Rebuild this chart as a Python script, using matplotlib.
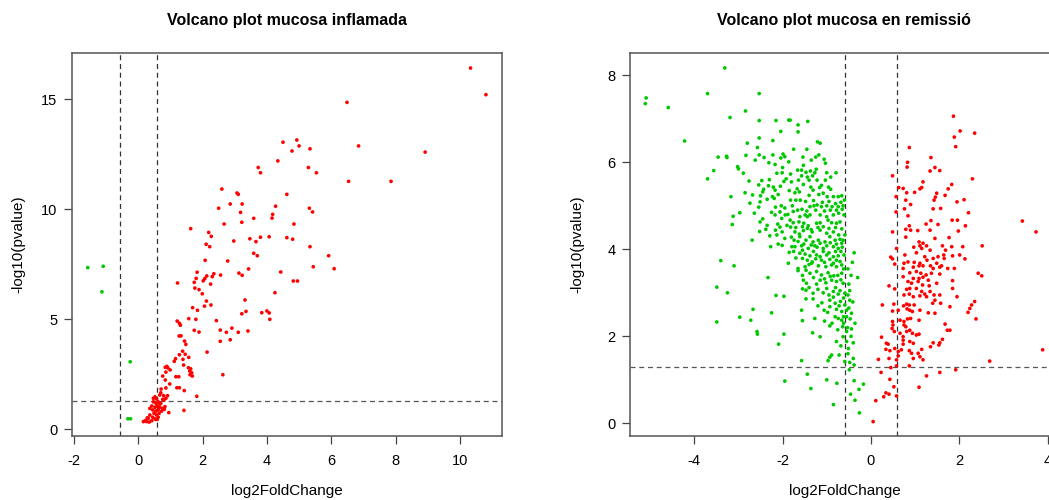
import matplotlib
matplotlib.use("Agg")
import matplotlib.pyplot as plt
import numpy as np

plt.rcParams['font.family'] = ['Liberation Sans', 'DejaVu Sans']

# ---------------- data: mucosa inflamada ----------------
inflamada_up = [
    (4.50,13.05),(4.93,13.15),(5.00,12.88),(4.78,12.65),(5.34,12.75),(4.34,12.2),(3.73,11.9),(3.80,11.66),
    (5.29,11.9),(2.60,10.92),(3.07,10.74),(3.11,10.68),(4.62,10.68),(2.86,10.24),(3.23,10.24),(2.50,10.05),
    (4.27,10.14),(5.32,10.05),(3.18,9.86),(4.18,9.77),(4.16,9.60),(3.59,9.59),(3.22,9.41),(2.67,9.33),
    (4.84,9.33),(1.63,9.12),(2.19,8.95),(2.27,8.77),(2.97,8.56),(3.47,8.66),(3.66,8.53),(3.80,8.73),
    (4.07,8.75),(4.62,8.71),(4.80,8.64),(2.11,8.41),(2.22,8.30),(5.34,8.30),
    (10.33,16.42),(10.81,15.21),(6.49,14.86),(6.85,12.88),(8.92,12.60),(5.54,11.66),(6.54,11.27),(7.86,11.27),(5.42,9.88),
    (4.43,7.15),(4.82,6.74),(4.95,6.74),(5.44,7.39),(5.92,7.89),(6.09,7.30),
    (2.08,7.68),(2.78,7.65),(3.59,8.0),(3.70,7.89),(1.83,7.14),(2.35,7.07),(2.13,6.97),(2.30,6.94),(2.07,6.85),
    (2.02,6.75),(1.80,6.86),(2.56,7.01),(3.13,7.10),(3.23,7.0),(3.43,7.29),(1.22,6.65),(1.74,6.68),(2.25,6.60),
    (1.76,6.42),(1.89,6.35),(1.99,6.16),(2.12,5.83),(2.06,5.60),(2.26,5.65),(1.69,5.53),(1.84,5.41),(3.32,5.88),
    (4.25,6.21),(3.84,5.30),(4.00,5.38),(4.07,5.29),(4.09,5.0),(3.22,5.25),(3.35,5.36),(1.57,5.03),(1.79,5.0),
    (1.21,4.92),(1.28,4.82),(1.31,4.73),(2.43,4.94),(1.74,4.50),(1.89,4.42),(2.55,4.51),(2.74,4.41),(2.91,4.60),
    (3.11,4.41),(3.41,4.47),(2.55,4.0),(2.86,4.07),(1.27,4.24),(1.33,4.25),(1.44,4.01),(1.48,3.86),(2.14,3.51),
    (1.38,3.55),(1.28,3.39),(1.46,3.41),(1.57,3.27),(1.16,3.21),(1.12,3.09),(1.39,3.18),(0.89,2.86),(0.92,2.79),
    (0.99,2.70),(0.84,2.82),(1.41,2.92),(1.56,2.80),(1.63,2.75),(1.60,2.65),(1.66,2.57),(1.61,2.48),(1.68,2.42),
    (0.86,2.60),(0.76,2.42),(1.17,2.39),(1.26,2.39),(0.84,2.24),(2.63,2.48),(0.98,2.06),(1.20,1.89),(1.28,1.89),
    (1.43,1.76),(0.71,1.83),(0.86,1.88),(0.70,1.66),(0.79,1.53),(0.91,1.53),(1.82,1.50),(1.42,0.86),(0.95,0.76),
    (0.52,1.48),(0.57,1.38),(0.47,1.25),(0.55,1.18),(0.62,1.25),(0.70,1.18),(0.42,1.06),(0.52,1.0),(0.59,1.06),
    (0.67,1.0),(0.76,0.95),(0.45,0.88),(0.55,0.83),(0.62,0.88),(0.73,0.83),(0.49,0.73),(0.36,0.65),(0.57,0.65),
    (0.45,0.55),(0.31,0.50),(0.52,0.47),(0.42,0.39),(0.26,0.35),(0.34,0.33),(0.55,0.45),(0.62,0.55),(0.80,1.33),
    (0.86,1.41),(0.67,1.56),(0.47,1.41),(0.36,0.95),(0.65,0.73),(0.59,0.45),(0.16,0.35),(0.22,0.40),(0.28,0.52),
    (0.67,1.15),(0.83,1.03),(0.76,1.36),(0.81,0.91),
]
inflamada_down = [(-1.57,7.35),(-1.09,7.41),(-1.13,6.25),(-0.25,3.07),(-0.32,0.48),(-0.24,0.48)]

# ---------------- data: mucosa en remissió ----------------
remissio_down = [
    (-5.09,7.48),(-5.11,7.35),(-4.59,7.26),(-4.22,6.49),(-3.31,8.17),(-3.70,7.58),(-2.53,7.58),(-3.46,6.12),
    (-3.56,5.81),(-3.70,5.62),
    (-2.84,7.18),(-3.19,7.03),(-2.53,6.96),(-2.15,6.96),(-1.86,6.97),(-1.83,6.97),(-1.43,6.94),(-1.65,6.86),
    (-2.04,6.71),(-1.65,6.70),(-2.22,6.50),(-2.53,6.56),(-2.80,6.44),(-1.21,6.47),(-1.15,6.44),(-2.57,6.34),
    (-3.27,6.14),(-3.26,6.11),(-2.83,6.16),(-2.53,6.17),(-2.42,6.11),(-2.22,6.17),(-1.99,6.19),(-1.95,6.13),
    (-2.04,6.10),(-1.86,6.01),(-2.31,5.99),(-2.17,5.95),(-2.00,5.88),(-2.13,5.75),(-2.01,5.76),(-1.82,5.73),
    (-1.54,6.12),(-1.25,6.12),(-1.18,6.17),(-1.06,6.07),(-1.03,5.98),(-3.02,5.90),(-3.00,5.85),(-2.89,5.75),
    (-2.76,5.57),(-2.47,5.58),(-1.66,5.82),(-1.57,5.82),(-1.53,5.93),(-1.47,5.77),(-1.37,5.80),(-1.24,5.84),
    (-1.27,5.76),(-1.44,5.66),(-1.40,5.59),(-1.32,5.69),(-1.22,5.59),(-1.57,5.69),(-1.64,5.59),(-1.92,5.62),
    (-1.97,5.56),(-1.00,5.76),(-0.91,5.66),(-0.79,5.76),(-1.12,5.47),(-1.16,5.42),(-1.03,5.59),(-0.96,5.43),
    (-0.91,5.38),(-2.54,5.48),(-2.43,5.38),(-2.32,5.46),(-2.45,5.32),(-2.21,5.43),(-2.17,5.36),(-2.10,5.26),
    (-2.23,5.21),(-2.19,5.17),(-1.53,5.49),(-1.67,5.39),(-1.62,5.32),(-1.36,5.43),(-1.31,5.36),(-1.40,5.24),
    (-1.18,5.26),(-1.08,5.29),(-0.99,5.21),(-0.85,5.21),(-0.74,5.21),(-0.66,5.23),(-0.60,5.13),(-3.17,5.21),
    (-2.50,5.23),(-2.51,5.09),(-2.54,4.97),(-2.74,5.06),(-2.97,4.84),(-3.12,4.76),(-2.64,4.83),(-1.82,5.13),
    (-1.78,5.00),(-1.70,5.13),(-1.60,5.13),(-2.16,4.97),(-2.03,5.00),(-2.06,4.86),(-2.17,4.79),(-2.11,4.58),
    (-2.02,4.71),(-1.94,4.79),(-1.88,4.80),(-1.76,4.87),(-1.56,4.92),(-1.38,4.98),(-1.29,5.00),(-1.22,5.02),
    (-1.12,4.98),(-1.00,5.00),(-0.88,4.98),(-0.74,4.98),(-0.63,5.00),(-1.61,4.75),(-1.49,4.79),(-1.44,4.75),
    (-1.38,4.79),(-1.15,4.79),(-1.00,4.75),(-0.85,4.79),(-0.73,4.83),(-0.61,4.79),(-1.83,4.67),(-1.76,4.61),
    (-1.63,4.63),(-1.52,4.60),(-1.42,4.54),(-1.23,4.60),(-1.15,4.61),(-0.97,4.67),(-0.89,4.61),(-0.78,4.60),
    (-0.70,4.63),(-3.14,4.57),(-2.51,4.63),(-2.52,4.41),(-2.38,4.46),(-2.29,4.31),(-2.16,4.44),(-2.13,4.33),
    (-2.06,4.51),(-2.01,4.40),(-1.82,4.51),(-1.72,4.40),(-1.62,4.35),(-1.53,4.43),(-1.44,4.48),(-1.33,4.40),
    (-1.15,4.44),(-1.00,4.37),(-0.85,4.40),(-0.73,4.33),(-0.59,4.33),(-2.69,4.21),(-2.27,4.06),(-2.01,4.09),
    (-2.10,4.12),(-1.80,4.28),(-1.74,4.21),(-1.61,4.29),(-1.47,4.21),(-1.38,4.29),(-1.31,4.17),(-1.19,4.21),
    (-1.04,4.17),(-0.93,4.29),(-0.81,4.21),(-0.70,4.23),(-0.63,4.21),(-1.79,4.06),(-1.72,4.06),(-1.57,4.08),
    (-1.42,4.02),(-1.27,4.08),(-1.15,4.14),(-1.00,4.08),(-0.85,4.06),(-0.74,4.02),(-0.66,4.14),(-1.85,3.93),
    (-1.61,3.91),(-1.49,3.89),(-1.38,3.85),(-1.23,3.87),(-1.15,3.83),(-1.00,3.87),(-0.85,3.83),(-0.74,3.85),
    (-0.61,3.87),(-1.55,3.79),(-1.44,3.75),(-1.33,3.71),(-1.12,3.75),(-0.93,3.77),(-0.78,3.75),(-3.40,3.74),
    (-3.10,3.62),(-1.87,3.68),(-1.65,3.56),(-1.49,3.60),(-1.34,3.68),(-1.19,3.62),(-1.02,3.60),(-0.89,3.64),
    (-0.78,3.60),(-0.66,3.64),
    (-1.65,3.51),(-1.47,3.52),(-1.38,3.45),(-1.23,3.49),(-1.12,3.41),(-0.97,3.46),(-0.84,3.39),(-0.66,3.45),
    (-2.33,3.35),(-1.53,3.29),(-1.46,3.22),(-1.23,3.20),(-1.15,3.29),(-1.02,3.23),(-0.89,3.29),(-0.78,3.26),
    (-0.63,3.22),(-3.25,3.00),(-2.15,2.94),(-1.97,2.92),(-1.55,3.09),(-1.47,3.06),(-1.31,2.99),(-1.00,3.10),
    (-0.85,3.03),(-0.74,2.97),(-0.59,2.99),(-1.47,2.86),(-1.31,2.86),(-1.11,2.77),(-0.93,2.83),(-0.81,2.76),
    (-0.69,2.80),(-0.59,2.72),(-2.67,2.62),(-2.25,2.54),(-1.57,2.60),(-1.06,2.60),(-0.93,2.68),(-0.78,2.62),
    (-0.66,2.57),(-0.55,2.60),(-2.97,2.44),(-2.72,2.37),(-1.55,2.36),(-1.27,2.41),(-0.81,2.45),(-0.74,2.41),
    (-0.66,2.37),(-0.55,2.45),(-2.58,2.11),(-2.57,2.05),(-1.97,2.05),(-0.93,2.24),(-0.64,2.22),(-0.55,2.11),
    (-1.32,2.08),(-1.15,1.99),(-2.09,1.82),(-0.68,1.78),(-0.55,1.88),(-0.51,1.72),(-0.89,1.57),(-0.93,1.52),
    (-0.72,1.57),(-1.57,1.44),(-0.97,1.44),(-0.59,1.42),(-1.44,1.13),(-1.00,1.00),(-0.77,0.92),(-1.95,0.97),
    (-1.36,0.80),(-0.85,0.43),(-0.49,1.23),(-0.63,1.99),(-0.78,1.88),
    (-0.38,3.92),(-0.30,3.35),(-0.48,2.83),(-0.41,2.79),(-0.44,2.53),(-0.44,2.17),(-0.40,1.85),(-0.40,1.49),
    (-0.38,1.34),(-0.38,0.98),(-0.17,0.90),(-0.27,0.78),(-0.46,0.67),(-0.36,0.53),(-0.26,0.24),
    (-3.49,3.13),(-3.49,2.33),
    (-1.72,5.30),(-1.48,5.10),(-1.30,5.12),(-1.10,5.08),(-0.95,5.10),(-0.80,5.05),(-0.68,5.08),(-1.95,4.95),
    (-1.66,4.90),(-1.45,4.88),(-1.25,4.90),(-1.05,4.88),(-0.92,4.90),(-0.78,4.90),(-0.65,4.92),(-1.90,4.55),
    (-1.70,4.50),(-1.55,4.52),(-1.35,4.45),(-1.20,4.50),(-1.08,4.52),(-0.95,4.48),(-0.80,4.50),(-0.66,4.47),
    (-1.95,4.25),(-1.65,4.18),(-1.52,4.12),(-1.35,4.10),(-1.22,4.05),(-1.08,4.02),(-0.92,4.15),(-0.78,4.12),
    (-0.65,4.05),(-1.75,3.95),(-1.55,3.98),(-1.30,3.95),(-1.08,3.95),(-0.95,3.92),(-0.80,3.95),(-0.68,3.95),
    (-1.70,3.80),(-1.40,3.65),(-1.25,3.78),(-1.05,3.70),(-0.85,3.68),(-0.70,3.72),(-0.62,3.55),(-1.55,3.40),
    (-1.30,3.35),(-1.05,3.32),(-0.92,3.38),(-0.75,3.40),(-0.68,3.30),(-1.40,3.12),(-1.20,3.08),(-1.08,3.00),
    (-0.95,2.95),(-0.80,3.12),(-0.70,3.05),(-0.62,2.88),(-1.20,2.70),(-0.98,2.55),(-0.85,2.90),(-0.72,2.70),
    (-0.62,2.45),(-1.05,2.35),(-0.88,2.30),(-0.75,2.15),(-0.62,2.30),(-2.30,5.60),(-2.05,5.45),(-1.85,5.35),
    (-2.35,5.15),(-2.25,4.85),(-2.45,4.70),(-2.35,4.55),(-1.80,5.55),(-1.75,6.30),(-1.45,6.30),(-1.35,6.05),
    (-2.62,6.05),(-2.68,5.25),(-2.85,5.30),
    (-0.52,3.55),(-0.50,3.20),(-0.48,3.05),(-0.45,3.40),(-0.52,2.95),(-0.50,2.65),(-0.47,2.40),(-0.53,2.20),
    (-0.45,2.00),(-0.52,1.60),(-0.48,1.40),(-0.36,2.30),(-0.42,3.70),
]
remissio_up = [
    (0.87,6.34),(1.92,6.36),(1.36,6.11),(0.83,6.00),(0.82,5.89),(1.45,5.88),(1.34,5.80),(1.56,5.81),(0.49,5.69),
    (2.30,5.62),(1.83,5.49),(1.18,5.55),(1.15,5.42),(1.11,5.39),(0.63,5.42),(0.73,5.40),(0.57,5.21),(0.81,5.30),
    (0.99,5.31),(1.49,5.29),(1.68,5.24),(1.75,5.39),(1.46,5.20),(1.43,5.13),(2.11,5.14),(1.95,5.09),(0.90,5.03),
    (0.79,5.13),(0.76,4.93),(1.41,4.93),(1.58,4.94),(2.21,4.84),(0.57,4.86),(0.84,4.77),(1.36,4.66),(1.52,4.57),
    (1.84,4.67),(1.96,4.67),(0.87,4.54),(0.79,4.46),(0.90,4.44),(1.06,4.43),(1.25,4.58),(1.34,4.44),(2.14,4.54),
    (1.98,4.42),(0.49,4.40),(0.79,4.28),(1.45,4.25),(1.77,4.27),(1.09,4.17),(1.11,4.08),(1.18,4.14),(1.26,4.08),
    (0.97,4.05),(1.15,4.02),(1.34,3.98),(1.62,4.08),(1.83,4.06),(1.69,3.98),(2.08,4.06),(2.01,3.87),(0.45,3.82),
    (0.49,3.78),(0.54,3.66),(0.77,3.87),(1.03,3.92),(1.22,3.83),(1.41,3.79),(0.84,3.71),(0.75,3.68),(0.98,3.70),
    (1.11,3.68),(1.27,3.75),(1.52,3.83),(1.65,3.87),(1.66,3.79),(1.35,3.62),(1.49,3.68),(1.60,3.62),(1.74,3.56),
    (1.89,3.56),(0.58,4.02),(0.73,3.56),(0.96,3.59),(1.09,3.62),(1.18,3.62),(1.41,3.56),(1.56,3.59),(2.13,3.78),
    (1.85,3.85),(2.43,3.45),(0.73,3.37),(0.88,3.46),(1.03,3.49),(1.13,3.45),(1.25,3.41),(1.37,3.45),(1.56,3.43),
    (0.96,3.33),(1.09,3.33),(1.18,3.36),(1.30,3.29),(0.84,3.26),(0.92,3.22),(1.07,3.26),(1.17,3.18),(1.32,3.16),
    (1.49,3.22),(1.85,3.28),(0.41,3.16),(0.54,3.09),(1.85,3.10),(0.81,3.08),(0.88,3.10),(1.03,3.10),(1.15,3.03),
    (1.22,2.97),(1.34,3.03),(1.43,2.95),(1.56,2.95),(1.95,2.91),(0.75,2.95),(0.87,2.97),(0.96,2.91),(1.11,2.93),
    (1.26,2.91),(1.45,2.83),(1.40,2.76),(1.58,2.76),(2.35,2.80),(2.28,2.72),(2.24,2.64),(2.20,2.55),(2.38,2.40),
    (0.26,2.72),(0.52,2.74),(0.49,2.58),(0.74,2.70),(0.81,2.74),(0.87,2.72),(0.98,2.72),(0.82,2.63),(0.88,2.60),
    (0.94,2.57),(1.11,2.60),(1.30,2.54),(1.45,2.53),(1.79,2.68),(0.62,2.60),(0.49,2.34),(0.50,2.26),(0.66,2.37),
    (0.75,2.34),(0.83,2.40),(0.90,2.41),(0.75,2.26),(0.79,2.22),(1.09,2.37),(1.68,2.28),(1.73,2.14),(1.79,2.14),
    (0.48,2.18),(0.53,2.11),(0.66,2.07),(0.73,1.99),(0.81,2.11),(0.88,2.14),(0.94,2.07),(1.03,2.03),(1.09,2.05),
    (0.73,1.91),(0.88,1.88),(0.96,1.84),(1.62,1.93),(1.56,1.85),(1.41,1.85),(0.24,1.98),(0.35,1.84),(0.39,1.82),
    (0.34,1.70),(0.43,1.67),(0.54,1.72),(0.62,1.65),(0.69,1.69),(0.73,1.82),(0.87,1.67),(0.92,1.61),(1.07,1.61),
    (1.15,1.70),(1.35,1.76),(1.54,1.80),(1.11,1.53),(1.18,1.46),(0.96,1.49),(0.62,1.55),(0.58,1.46),(0.17,1.47),
    (0.41,1.49),(0.87,1.32),(0.58,1.32),(0.45,1.28),(1.92,1.23),(1.56,1.17),(1.26,1.09),(0.23,1.17),(0.43,1.01),
    (0.52,0.84),(1.09,0.83),(0.34,0.70),(0.29,0.61),(0.41,0.67),(0.58,0.63),(0.11,0.52),(0.05,0.04),
    (1.87,7.06),(2.02,6.72),(2.35,6.67),(1.89,6.58),(3.43,4.65),(3.74,4.40),(2.52,4.08),(2.51,3.39),(3.89,1.69),
    (2.69,1.43),
]

titles = ["Volcano plot mucosa inflamada", "Volcano plot mucosa en remissió"]
xlabel = "log2FoldChange"
ylabel = "-log10(pvalue)"
fc_cut = 0.58
p_cut = 1.3
left_xticks = [-2, 0, 2, 4, 6, 8, 10]
left_yticks = [0, 5, 10, 15]
right_xticks = [-4, -2, 0, 2, 4]
right_yticks = [0, 2, 4, 6, 8]

RED = "#FF0000"
GREEN = "#00C800"

W, H = 1049, 500
fig = plt.figure(figsize=(W / 100, H / 100), dpi=100)

AX_TOP, AX_BOT = 53.3, 435.7

def px_axes(x0, x1):
    return fig.add_axes([x0 / W, 1 - AX_BOT / H, (x1 - x0) / W, (AX_BOT - AX_TOP) / H])

ax1 = px_axes(72, 501.7)
ax2 = px_axes(630, 1059)

def draw(ax, up, down, title, xt, yt, xlim, ylim, x0, x1, ylab_x, title_x):
    ux, uy = zip(*up)
    dx, dy = zip(*down)
    ax.scatter(ux, uy, s=7, c=RED, edgecolors="none", zorder=3)
    ax.scatter(dx, dy, s=7, c=GREEN, edgecolors="none", zorder=3)
    for v in (-fc_cut, fc_cut):
        ax.axvline(v, color="#333333", lw=0.9, ls=(0, (4, 3)), zorder=2)
    ax.axhline(p_cut, color="#555555", lw=0.9, ls=(0, (4, 3)), zorder=2)
    ax.set_xlim(*xlim)
    ax.set_ylim(*ylim)
    ax.set_xticks(xt)
    ax.set_yticks(yt)
    ax.set_xticklabels([str(t) for t in xt])
    ax.set_yticklabels([str(t) for t in yt])
    ax.tick_params(axis="both", direction="out", length=5.5, width=0.9,
                   color="#444444", labelsize=10.5)
    ax.tick_params(axis="x", pad=8)
    ax.tick_params(axis="y", pad=5)
    for sp in ax.spines.values():
        sp.set_color("#555555")
        sp.set_linewidth(1.1)
    wpx = x1 - x0
    hpx = AX_BOT - AX_TOP
    ax.text((title_x - x0) / wpx, (AX_TOP - 20) / hpx + 1.0 - 0.0, title,
            transform=ax.transAxes, ha="center", va="center",
            fontsize=11.5, fontweight="bold")
    ax.set_xlabel(xlabel, fontsize=11, va="center")
    ax.xaxis.set_label_coords(0.5, -(491 - AX_BOT) / hpx)
    ax.set_ylabel(ylabel, fontsize=11, va="center")
    ax.yaxis.set_label_coords((ylab_x - x0) / wpx, 0.5)

draw(ax1, inflamada_up, inflamada_down, titles[0], left_xticks, left_yticks,
     (-2.06, 11.30), (-0.29, 17.09), 72, 501.7, 18, 287)
draw(ax2, remissio_up, remissio_down, titles[1], right_xticks, right_yticks,
     (-5.456, 4.26), (-0.285, 8.506), 630, 1059, 577, 844)

fig.savefig("out.png", dpi=100)
